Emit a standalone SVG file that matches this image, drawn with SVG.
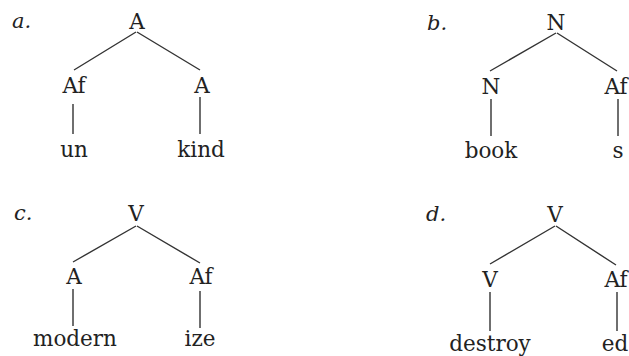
<svg xmlns="http://www.w3.org/2000/svg" width="629" height="356" viewBox="0 0 629 356">
<style>
.t{font-family:"DejaVu Serif","Liberation Serif",serif;font-size:21.5px;fill:#222;text-anchor:middle}
.l{font-family:"DejaVu Serif","Liberation Serif",serif;font-size:21px;font-style:italic;fill:#222}
.e{stroke:#333;stroke-width:1.4;fill:none}
</style>
<rect width="629" height="356" fill="#fff"/>
<g id="connectors">
<path class="e" d="M136 32L74 70M137 32L200 70M73 104V134M200 97V134"/>
<path class="e" d="M556 33L490 71M557 33L617 71M491 99V136M618 99V136"/>
<path class="e" d="M136 226L73 262M137 226L200 263M73 289V326M200 291V328"/>
<path class="e" d="M555 226L490 264M556 226L616 265M490 292V331M617 292V331"/>
</g>
<g id="label-a"><text class="l" x="12" y="28">a.</text></g>
<g id="label-b"><text class="l" x="427" y="30">b.</text></g>
<g id="label-c"><text class="l" x="14" y="220">c.</text></g>
<g id="label-d"><text class="l" x="426" y="221">d.</text></g>
<g id="a-root"><text class="t" x="137" y="29">A</text></g>
<g id="a-af"><text class="t" x="74" y="93">Af</text></g>
<g id="a-a"><text class="t" x="202" y="93">A</text></g>
<g id="a-un"><text class="t" x="74" y="157">un</text></g>
<g id="a-kind"><text class="t" x="201" y="157">kind</text></g>
<g id="b-root"><text class="t" x="556" y="30">N</text></g>
<g id="b-n"><text class="t" x="491" y="94">N</text></g>
<g id="b-af"><text class="t" x="616" y="94">Af</text></g>
<g id="b-book"><text class="t" x="491" y="158">book</text></g>
<g id="b-s"><text class="t" x="618" y="158">s</text></g>
<g id="c-root"><text class="t" x="136" y="221">V</text></g>
<g id="c-a"><text class="t" x="74" y="284">A</text></g>
<g id="c-af"><text class="t" x="201" y="284">Af</text></g>
<g id="c-modern"><text class="t" x="75" y="346">modern</text></g>
<g id="c-ize"><text class="t" x="200" y="346">ize</text></g>
<g id="d-root"><text class="t" x="555" y="222">V</text></g>
<g id="d-v"><text class="t" x="490" y="287">V</text></g>
<g id="d-af"><text class="t" x="616" y="287">Af</text></g>
<g id="d-destroy"><text class="t" x="490" y="351">destroy</text></g>
<g id="d-ed"><text class="t" x="615" y="351">ed</text></g>
</svg>
